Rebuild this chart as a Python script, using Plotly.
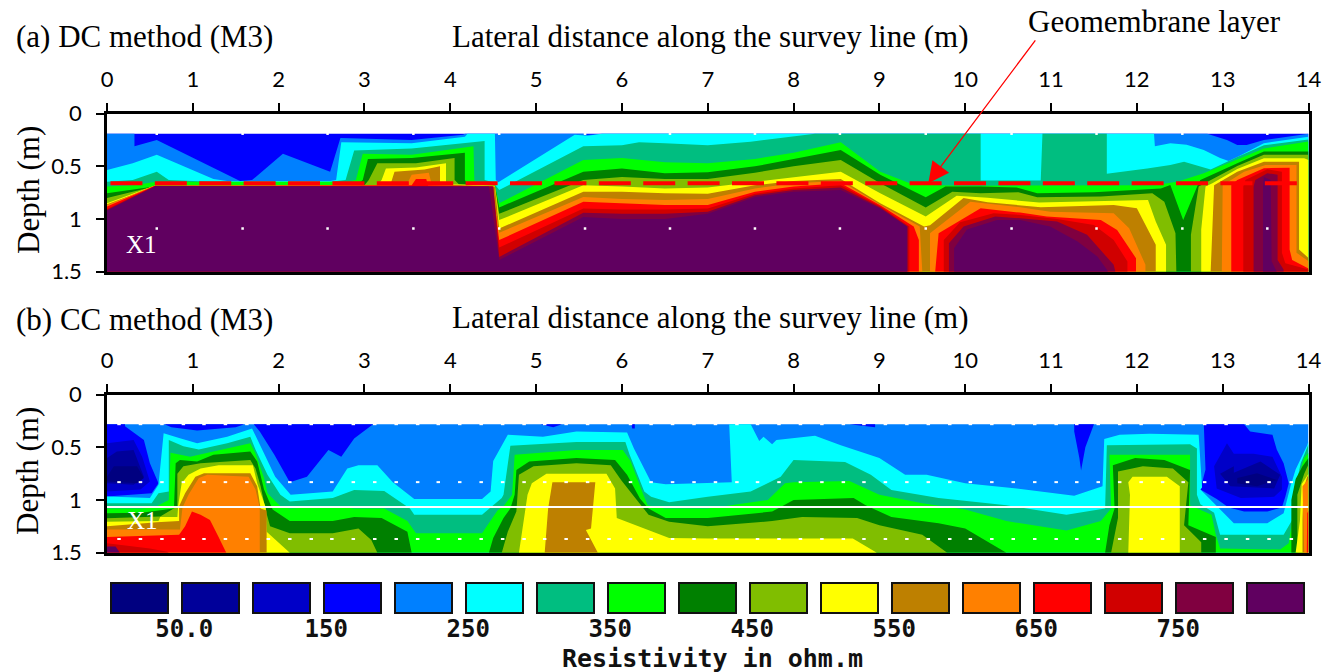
import plotly.graph_objects as go

W, H = 1335, 672
BAND_COLORS = ["#000080", "#00009A", "#0000C8", "#0000FF", "#0080FF", "#00FFFF", "#00BE80", "#00FF00", "#008000",
               "#80BE00", "#FFFF00", "#BE8000", "#FF8000", "#FF0000", "#D00000", "#800040", "#600060"]
LEGEND_POS = list(range(17))
LEGEND_TICKS = [0.63, 2.63, 4.63, 6.63, 8.63, 10.63, 12.63, 14.63]
LEGEND_LABELS = ["50.0", "150", "250", "350", "450", "550", "650", "750"]
X_TICKS = list(range(15))
DEPTH_TICKS = [0, 0.5, 1, 1.5]
DEPTH_LABELS = ["0", "0.5", "1", "1.5"]

# Iso-resistivity outlines: (distance m, depth m).
# DC_Lk is the outline of the area with resistivity above the lower limit of colour band k.
DC_L3 = [[(0, .19), (14, .19)]]
DC_L4 = [[(0, .19), (.32, .19), (.32, .31), (.58, .25), (1.55, .64), (1.69, .63), (2.05, .38), (2.6, .55), (2.72, .23),
          (3.55, .25), (4.15, .2), (4.17, .19), (5.55, .19), (5.6, .2), (5.77, .19), (12.82, .19), (13.05, .25),
          (13.17, .297), (13.28, .297), (13.48, .25), (14, .19)]]
DC_L5 = [[(0, .535), (.3, .47), (.58, .39), (1.24, .62), (1.4, .64), (2.6, .64), (2.67, .63), (2.73, .27), (3.55, .28),
          (4.17, .22), (4.2, .19), (4.52, .19), (4.53, .63), (4.56, .65), (5.45, .2), (5.6, .21), (5.77, .19),
          (12.2, .19), (12.21, .31), (12.39, .28), (12.58, .295), (12.78, .345), (12.97, .42), (13.07, .45),
          (13.17, .41), (13.48, .28), (14, .22)]]
DC_L6 = [[(0, .645), (.3, .63), (.58, .55), (.72, .63), (1.2, .645), (2.6, .645), (2.78, .63), (2.88, .35), (3.55, .33),
          (4.4, .26), (4.4, .63), (4.5, .65), (4.57, .725), (5.55, .31), (6, .3), (6.2, .27), (6.5, .28), (7, .3),
          (7.5, .266), (8.25, .19), (10.18, .19), (10.18, .635), (10.88, .635), (10.9, .19), (11.65, .19), (11.65, .57),
          (12.12, .52), (12.39, .487), (12.55, .455), (12.74, .5), (12.86, .53), (13.17, .41), (13.48, .3), (14, .245)]]
DC_L7 = [[(0, .69), (.3, .68), (.58, .645), (2.8, .645), (2.9, .63), (2.98, .38), (3.55, .39), (4.27, .31), (4.28, .63),
          (4.3, .66), (4.52, .68), (4.57, .85), (5.55, .44), (6, .42), (6.5, .46), (7, .47), (7.55, .43), (8, .37),
          (8.55, .27), (9.01, .55), (9.4, .675), (10, .683), (12.2, .68), (12.47, .645), (12.78, .565), (13.17, .435),
          (13.48, .33), (14, .265)]]
DC_L8 = [[(0, .756), (.3, .72), (.55, .69), (2.9, .68), (2.98, .63), (3.04, .43), (3.55, .42), (4.17, .37), (4.17, .63),
          (4.2, .67), (4.52, .68), (4.57, .89), (5.55, .55), (6, .52), (6.5, .565), (7, .555), (7.55, .5), (8, .43),
          (8.55, .345), (9.01, .58), (9.54, .793), (9.77, .692), (10.18, .69), (10.6, .7), (10.84, .755), (11.5, .746),
          (12.28, .71), (12.39, .677), (12.54, 1.01), (12.71, .677), (12.74, .63), (13.17, .47), (13.48, .36), (14, .36)]]
DC_L9 = [[(0, .8), (.25, .75), (.55, .69), (3.0, .68), (3.05, .63), (3.15, .47), (3.6, .47), (4.05, .42), (4.05, .63),
          (4.1, .67), (4.52, .68), (4.57, .95), (5.55, .63), (6, .6), (6.5, .62), (7, .62), (7.55, .56), (8, .5),
          (8.55, .44), (9.01, .66), (9.54, .891), (9.85, .74), (10.18, .756), (10.62, .746), (10.84, .793), (11.58, .787),
          (12.18, .756), (12.32, .835), (12.45, 1.135), (12.46, 1.5)],
         [(12.63, 1.5), (12.63, 1.15), (12.72, .69), (12.86, .63), (13.17, .496), (13.48, .39), (14, .39)]]
DC_L10 = [[(0, .85), (.3, .76), (.55, .685), (3.15, .68), (3.2, .63), (3.25, .52), (3.6, .51), (3.95, .47), (3.95, .66),
           (4, .67), (4.52, .685), (4.57, 1.01), (5.55, .68), (6, .69), (6.5, .71), (7, .7), (7.55, .645), (8, .6),
           (8.55, .55), (9.01, .755), (9.54, .977), (9.9, .78), (10.26, .797), (10.86, .844), (11.5, .835), (12.13, .82),
           (12.22, 1.024), (12.34, 1.245), (12.34, 1.5)],
          [(12.75, 1.5), (12.75, 1.1), (12.8, .69), (12.88, .66), (13.17, .525), (13.48, .424), (13.95, .424), (14, .44)]]
DC_L11 = [[(0, .86), (.3, .77), (.55, .685), (3.3, .68), (3.35, .55), (3.7, .53), (3.88, .5), (3.88, .67), (4.52, .69),
           (4.57, 1.09), (5.55, .74), (6, .74), (6.5, .756), (7, .76), (7.55, .68), (8, .64), (8.55, .62), (9.01, .85),
           (9.52, 1.07), (9.59, 1.06), (9.98, .8), (10.26, .84), (10.88, .888), (11.73, .866), (12, .898), (12.12, 1.087),
           (12.22, 1.245), (12.22, 1.5)],
          [(12.86, 1.5), (12.9, .68), (13.17, .55), (13.48, .455), (13.89, .455), (13.89, 1.29), (14, 1.37)]]
DC_L12 = [[(0, .87), (.55, .685), (3.45, .68), (3.5, .66), (3.55, .58), (3.75, .56), (3.78, .66), (3.82, .68), (4.48, .69),
           (4.57, 1.13), (5.55, .79), (6, .81), (6.5, .82), (7, .81), (7.55, .71), (8, .66), (8.55, .64), (9.01, .865),
           (9.47, 1.07), (9.5, 1.5)],
          [(9.59, 1.5), (9.59, 1.135), (10.06, .835), (10.64, .888), (10.99, .93), (11.73, .945), (11.91, 1.087),
           (12.1, 1.435), (12.1, 1.5)],
          [(12.99, 1.5), (13, .68), (13.25, .55), (13.5, .487), (13.86, .487), (13.86, 1.32), (14, 1.4)]]
DC_L13 = [[(0, .88), (.56, .685), (3.55, .68), (3.6, .62), (3.72, .62), (3.74, .68), (4.49, .69), (4.57, 1.2), (5.55, .835),
           (6, .85), (6.5, .867), (7, .867), (7.55, .74), (8, .69), (8.55, .66), (9.01, .87), (9.4, 1.07), (9.46, 1.2),
           (9.46, 1.5)],
          [(9.65, 1.5), (9.69, 1.135), (10.18, .898), (10.64, .939), (10.95, .977), (11.58, 1.008), (11.77, 1.103),
           (11.99, 1.372), (11.99, 1.5)],
          [(13.1, 1.5), (13.1, .68), (13.17, .63), (13.48, .518), (13.78, .512), (13.78, 1.29), (13.81, 1.39), (14, 1.47)]]
DC_L14 = [[(0, .905), (.56, .686), (4.5, .69), (4.57, 1.27), (5.55, .9), (6, .91), (6.5, .91), (7, .9), (7.55, .76),
           (8, .71), (8.55, .68), (9.01, .88), (9.35, 1.07), (9.35, 1.5)],
          [(9.75, 1.5), (9.75, 1.198), (9.94, 1.03), (10.33, .945), (10.64, .961), (11.07, 1.0), (11.5, 1.056),
           (11.73, 1.198), (11.89, 1.403), (11.89, 1.5)],
          [(13.24, 1.5), (13.24, .69), (13.265, .63), (13.52, .528), (13.69, .55), (13.69, 1.32), (13.73, 1.42), (14, 1.48)]]
DC_L15 = [[(0, .915), (.56, .687), (4.5, .69), (4.57, 1.36), (5.55, .94), (6, .95), (6.5, .95), (7, .93), (7.55, .775),
           (8, .725), (8.55, .7), (9.01, .89), (9.33, 1.07), (9.33, 1.5)],
          [(9.81, 1.5), (9.81, 1.23), (9.98, 1.07), (10.35, .977), (10.64, .993), (11.07, 1.024), (11.42, 1.15),
           (11.73, 1.435), (11.75, 1.5)],
          [(13.36, 1.5), (13.36, .69), (13.38, .63), (13.52, .565), (13.64, .58), (13.64, 1.39), (13.71, 1.48), (13.71, 1.5)]]
DC_L16 = [[(0, .92), (.57, .688), (4.45, .69), (4.57, 1.39), (5.55, .98), (6, 1.0), (6.5, 1.0), (7, .95), (7.55, .79),
           (8, .74), (8.55, .725), (9.01, .9), (9.32, 1.07), (9.32, 1.5)],
          [(9.87, 1.5), (9.87, 1.277), (10.02, 1.1), (10.37, 1.008), (10.64, 1.008), (10.99, 1.07), (11.31, 1.214),
           (11.54, 1.356), (11.66, 1.492), (11.66, 1.5)],
          [(13.47, 1.5), (13.47, .69), (13.48, .6), (13.56, .63), (13.57, 1.4), (13.63, 1.5)]]
DC_LAYERS = [(3, DC_L3), (4, DC_L4), (5, DC_L5), (6, DC_L6), (7, DC_L7), (8, DC_L8), (9, DC_L9), (10, DC_L10),
             (11, DC_L11), (12, DC_L12), (13, DC_L13), (14, DC_L14), (15, DC_L15), (16, DC_L16)]

# CC panel: light blue ground, low-resistivity pockets, then the outlines above each limit.
CC_BASE = [[(0, .28), (14, .28)]]
CC_LOW3 = [[(0, .28), (.21, .28), (.21, .3), (.43, .43), (.5, .65), (.6, .84), (.52, .935), (0, .967)],
           [(.67, .28), (.75, .31), (1.05, .34), (1.5, .31), (1.6, .28)],
           [(1.71, .28), (1.78, .35), (1.95, .57), (2.13, .83), (2.33, .78), (2.58, .525), (2.73, .59), (2.88, .415), (3.1, .28)],
           [(5.05, .28), (5.2, .31), (5.3, .28)], [(6.11, .28), (6.12, .32), (6.15, .32), (6.15, .28)],
           [(8.65, .28), (8.95, .31), (8.95, .28)],
           [(11.27, .28), (11.27, .35), (11.33, .6), (11.35, .72), (11.4, .5), (11.5, .28)],
           [(12.78, .28), (13.25, .28), (13.32, .35), (13.58, .38), (13.63, .52), (13.71, .65), (13.77, .84), (13.73, .97),
            (13.69, 1.07), (13.52, 1.11), (13.25, 1.11), (13.07, 1.07), (12.93, .99), (12.74, .9), (12.8, .71)]]
CC_LOW2 = [[(0, .46), (.31, .43), (.41, .59), (.5, .825), (.39, .9), (0, .92)],
           [(13.05, .46), (13.13, .56), (13.36, .56), (13.58, .59), (13.69, .78), (13.69, .9), (13.6, .97), (13.21, .98),
            (12.93, .89), (12.9, .68)]]
CC_LOW1 = [[(0, .6), (.115, .54), (.31, .525), (.43, .78), (.31, .856), (0, .84)],
           [(13.13, .68), (13.13, .74), (13.44, .635), (13.67, .76), (13.6, .89), (13.09, .87), (12.97, .75)]]
CC_LOW0 = [[(0, .78), (.08, .68), (.35, .68), (.43, .79), (.35, .84), (0, .825)],
           [(13.17, .79), (13.4, .745), (13.63, .81), (13.4, .87), (13.17, .84)]]
CC_L5 = [[(0, .967), (.5, .98), (.6, .856), (.66, .366), (.85, .414), (1.05, .46), (1.4, .4), (1.69, .32), (1.79, .49),
          (1.96, .78), (2.14, .95), (2.63, .92), (2.8, .7), (2.93, .67), (3.15, .67), (3.33, .83), (3.58, .99), (4.37, .99),
          (4.47, .92), (4.5, .63), (4.67, .38), (5.08, .4), (5.47, .35), (6.06, .36), (6.14, .51), (6.34, .83), (6.51, .85),
          (7, .84), (7.28, .83), (7.25, .28), (7.5, .28), (7.6, .44), (7.65, .4), (7.75, .47), (7.8, .43), (8.25, .39),
          (8.55, .48), (9, .6), (9.3, .76), (9.55, .76), (10, .84), (10.6, .89), (11.27, .96), (11.6, .87), (11.62, .42),
          (11.8, .38), (12.15, .37), (12.72, .38), (12.76, .88), (12.74, .9), (12.97, 1.09), (13.13, 1.22), (13.52, 1.22),
          (13.71, 1.125), (13.79, .87), (13.85, .71), (13.985, .48), (14, .44)]]
CC_L6 = [[(0, 1.03), (.52, 1.03), (.6, .935), (.72, .92), (.72, .43), (.89, .49), (1.07, .52), (1.4, .46), (1.67, .4),
          (1.73, .52), (1.87, .76), (2.02, .95), (2.13, 1.015), (2.63, .98), (2.88, .905), (3.23, .915), (3.53, 1.08),
          (3.58, 1.14), (4.37, 1.14), (4.6, .98), (4.62, .95), (4.7, .485), (5.47, .45), (6.04, .45), (6.09, .57), (6.26, .92),
          (6.34, .97), (6.55, 1.02), (7, .97), (7.5, .92), (7.85, .78), (8, .62), (8.6, .64), (8.9, .76), (9.14, .905),
          (9.69, .98), (10.48, 1.05), (11.18, 1.14), (11.63, 1.08), (11.65, .48), (12.62, .47), (12.7, .51), (12.7, .95),
          (12.74, 1.04), (12.9, 1.12), (12.97, 1.33), (13.71, 1.33), (13.81, 1.19), (13.85, .87), (13.91, .65), (14, .47)]]
CC_L7 = [[(0, 1.08), (.4, 1.08), (.55, 1.07), (.72, 1.0), (.74, .55), (.97, .59), (1.07, .57), (1.4, .51), (1.67, .46),
          (1.73, .556), (1.83, .79), (1.87, .935), (2.02, 1.06), (2.13, 1.08), (2.63, 1.06), (2.88, 1.08), (3.23, 1.08),
          (3.5, 1.2), (3.6, 1.316), (4.37, 1.316), (4.55, 1.1), (4.62, 1.06), (4.72, .95), (4.75, .57), (5.47, .525),
          (6.01, .525), (6.1, .63), (6.25, .95), (6.3, 1.05), (6.5, 1.08), (7, 1.08), (7.7, 1.0), (7.9, .84), (8, .83),
          (8.65, .82), (9, .95), (9.5, 1.03), (10, 1.09), (10.48, 1.2), (11.18, 1.29), (11.58, 1.2), (11.7, 1.08),
          (11.68, .57), (12.62, .57), (12.62, 1.05), (12.87, 1.14), (12.92, 1.33), (12.97, 1.46), (13.67, 1.47),
          (13.77, 1.41), (13.81, 1.19), (13.87, .81), (13.95, .6), (14, .55)]]
CC_L8 = [[(0, 1.126), (.4, 1.12), (.78, 1.08), (.8, .65), (.85, .62), (1.05, .635), (1.24, .57), (1.67, .54), (1.75, .635),
          (1.83, .9), (1.93, 1.09), (2.13, 1.2), (2.63, 1.2), (2.88, 1.16), (3.2, 1.17), (3.5, 1.3), (3.55, 1.5)],
         [(4.45, 1.5), (4.5, 1.36), (4.62, 1.17), (4.7, 1.08), (4.75, .95), (4.77, .715), (4.92, .635), (5.47, .6), (5.92, .62),
          (6.06, .76), (6.21, .985), (6.31, 1.08), (6.51, 1.17), (7, 1.17), (7.75, 1.11), (8, 1.0), (8.7, .98), (8.84, 1.05),
          (9.14, 1.16), (9.69, 1.22), (10, 1.27), (10.48, 1.5)],
         [(11.63, 1.5), (11.68, 1.24), (11.74, 1.08), (11.72, .67), (11.98, .6), (12.32, .62), (12.62, .715), (12.6, 1.24),
          (12.92, 1.35), (12.92, 1.5)],
         [(13.8, 1.5), (13.8, 1.0), (13.85, .8), (13.93, .68), (14, .6)]]
CC_L9 = [[(0, 1.174), (.62, 1.156), (.82, 1.06), (.82, .75), (.89, .68), (1.09, .65), (1.67, .62), (1.73, .7), (1.79, .87),
          (1.85, 1.1), (1.9, 1.25), (2.13, 1.316), (2.63, 1.316), (2.93, 1.27), (3.08, 1.38), (3.15, 1.5)],
         [(4.6, 1.5), (4.67, 1.3), (4.77, 1.11), (4.8, .76), (4.97, .68), (5.47, .65), (5.87, .67), (5.99, .81), (6.16, .985),
          (6.31, 1.14), (6.55, 1.205), (7, 1.25), (7.75, 1.2), (8.1, 1.16), (8.74, 1.17), (9, 1.24), (9.5, 1.33), (9.79, 1.5)],
         [(11.7, 1.5), (11.78, 1.17), (11.78, .73), (12.07, .68), (12.42, .7), (12.6, .83), (12.55, 1.24), (12.75, 1.4), (12.75, 1.5)],
         [(13.87, 1.5), (13.87, .95), (13.95, .75), (14, .66)]]
CC_L10 = [[(0, 1.205), (.6, 1.2), (.62, 1.16), (.82, 1.16), (.83, 1.05), (.87, .84), (.95, .76), (1.09, .7), (1.3, .67), (1.7, .67),
           (1.75, .84), (1.83, 1.03), (1.85, 1.07), (1.86, 1.3), (2, 1.4), (2.13, 1.5)],
          [(4.8, 1.5), (4.87, 1.14), (4.9, .95), (4.95, .84), (5.12, .75), (5.82, .75), (5.92, .89), (5.94, 1.17), (6.36, 1.3),
           (6.55, 1.36), (7, 1.365), (8.69, 1.365), (8.97, 1.5)],
          [(11.9, 1.5), (11.92, .95), (11.9, .83), (11.95, .78), (12.35, .78), (12.5, .87), (12.5, 1.5)],
          [(13.85, 1.5), (13.9, 1.2), (13.92, .85), (14, .75)]]
CC_L11 = [[(0, 1.25), (.58, 1.21), (.84, 1.2), (.84, 1.06), (.91, .935), (1.03, .78), (1.13, .745), (1.67, .745), (1.75, .87),
           (1.79, 1.08), (1.86, 1.1), (1.86, 1.5)],
          [(5.1, 1.5), (5.14, 1.08), (5.19, .83), (5.69, .83), (5.64, 1.27), (5.58, 1.285), (5.72, 1.5)],
          [(13.93, 1.5), (13.93, 1.19), (13.94, .9), (13.985, .78), (14, .77)]]
CC_L12 = [[(0, 1.28), (.85, 1.28), (.88, 1.07), (.95, .95), (1.07, .79), (1.17, .76), (1.65, .78), (1.73, .9), (1.78, 1.07), (1.78, 1.5)],
          [(13.95, 1.5), (13.93, .87), (13.99, .81), (14, .8)]]
CC_L13 = [[(0, 1.35), (.84, 1.33), (.91, 1.25), (.99, 1.11), (1.09, 1.14), (1.2, 1.19), (1.3, 1.35), (1.39, 1.5)],
          [(13.98, 1.5), (13.985, 1.125), (14, 1.1)]]
CC_L14 = [[(0, 1.41), (.5, 1.46), (.7, 1.49), (.72, 1.5)]]
CC_L16 = [[(0, 1.44), (.1, 1.44), (.15, 1.5)]]
CC_LOW = [(3, CC_LOW3), (2, CC_LOW2), (1, CC_LOW1), (0, CC_LOW0)]
CC_LAYERS = [(5, CC_L5), (6, CC_L6), (7, CC_L7), (8, CC_L8), (9, CC_L9), (10, CC_L10), (11, CC_L11), (12, CC_L12),
             (13, CC_L13), (14, CC_L14), (16, CC_L16)]

# Measurement markers and overlay lines
DC_DOT_X = [.58, 1.58, 2.57, 3.57, 4.57, 5.57, 6.56, 7.55, 8.54, 9.54, 10.54, 11.53, 12.53, 13.52]
DC_DOT_ROWS = [.19, 1.09]
CC_DOT_X = [.14, .39, .64, .89, 1.13, 1.38, 1.63, 1.88, 2.13, 2.38, 2.62, 2.87, 3.12, 3.37, 3.62, 3.86, 4.11, 4.36, 4.61,
            4.86, 5.1, 5.35, 5.6, 5.85, 6.1, 6.34, 6.59, 6.84, 7.09, 7.34, 7.58, 7.83, 8.08, 8.33, 8.58, 8.82, 9.07, 9.32,
            9.57, 9.82, 10.06, 10.31, 10.56, 10.81, 11.06, 11.3, 11.55, 11.8, 12.05, 12.3, 12.54, 12.79, 13.04, 13.29, 13.54, 13.8]
CC_DOT_ROWS = [.28, .83, 1.37]
MEMBRANE_X = [.04, 13.88]
MEMBRANE_D = [.66, .66]
WHITE_LINE_X = [0, 14]
WHITE_LINE_D = [1.066, 1.066]

SERIF = "Liberation Serif"
MONO = "DejaVu Sans Mono"
TICK = "Lato"
fig = go.Figure()


def add_area(parts, band, xaxis, yaxis, to_bottom=True):
    xs, ds = [], []
    for part in parts:
        px = [p[0] for p in part]
        pd = [p[1] for p in part]
        if to_bottom:
            px += [px[-1], px[0]]
            pd += [1.5, 1.5]
        xs += px + [None]
        ds += pd + [None]
    fig.add_trace(go.Scatter(x=xs, y=ds, mode="lines", fill="toself", fillcolor=BAND_COLORS[band],
                             line=dict(width=0), hoverinfo="skip", showlegend=False, xaxis=xaxis, yaxis=yaxis))


def add_dots(xs, rows, xaxis, yaxis, marker):
    for row in rows:
        fig.add_trace(go.Scatter(x=xs, y=[row] * len(xs), mode="markers", hoverinfo="skip", showlegend=False,
                                 marker=marker, xaxis=xaxis, yaxis=yaxis, cliponaxis=False))


for band, parts in DC_LAYERS:
    add_area(parts, band, "x", "y")
add_dots(DC_DOT_X, DC_DOT_ROWS, "x", "y", dict(color="white", size=2.5, symbol="square", line=dict(width=0)))
fig.add_trace(go.Scatter(x=MEMBRANE_X, y=MEMBRANE_D, mode="lines", hoverinfo="skip", showlegend=False,
                         line=dict(color="#FF0000", width=4, dash="32px,12.4px"), xaxis="x", yaxis="y"))

add_area(CC_BASE, 4, "x2", "y2")
for band, parts in CC_LOW:
    add_area(parts, band, "x2", "y2", to_bottom=False)
for band, parts in CC_LAYERS:
    add_area(parts, band, "x2", "y2")
add_dots(CC_DOT_X, CC_DOT_ROWS, "x2", "y2", dict(size=2.5, symbol="line-ew", line=dict(color="white", width=2)))
fig.add_trace(go.Scatter(x=WHITE_LINE_X, y=WHITE_LINE_D, mode="lines", hoverinfo="skip", showlegend=False,
                         line=dict(color="white", width=2), xaxis="x2", yaxis="y2"))

fig.add_trace(go.Bar(x=LEGEND_POS, y=[1] * 17, width=0.8, marker=dict(color=BAND_COLORS, line=dict(color="#111111", width=2)),
                     hoverinfo="skip", showlegend=False, xaxis="x3", yaxis="y3"))


def dom_x(a, b):
    return [a / W, b / W]


def dom_y(top, bottom):
    return [1 - bottom / H, 1 - top / H]


def xaxis(anchor):
    return dict(domain=dom_x(107, 1308.5), range=[0, 14], side="top", anchor=anchor, tickmode="array", tickvals=X_TICKS,
                ticks="outside", ticklen=8, tickwidth=2, tickcolor="black", showline=True, mirror=True, linecolor="black",
                linewidth=2.5, showgrid=False, zeroline=False, ticklabelstandoff=7,
                tickfont=dict(family=TICK, size=22, color="black"))


def yaxis(anchor, top, bottom):
    return dict(domain=dom_y(top, bottom), range=[1.5, 0], anchor=anchor, tickmode="array", tickvals=DEPTH_TICKS,
                ticktext=DEPTH_LABELS, ticks="outside", ticklen=8, tickwidth=2, tickcolor="black", showline=True, mirror=True,
                linecolor="black", linewidth=2.5, showgrid=False, zeroline=False, ticklabelstandoff=10,
                tickfont=dict(family=TICK, size=22, color="black"))


fig.update_layout(
    width=W, height=H, margin=dict(l=0, r=0, t=0, b=0, autoexpand=False), paper_bgcolor="white", plot_bgcolor="white",
    xaxis=xaxis("y"), yaxis=yaxis("x", 113.7, 271.7),
    xaxis2=xaxis("y2"), yaxis2=yaxis("x2", 394.7, 552.7),
    xaxis3=dict(domain=dom_x(104, 1311), range=[-0.5, 16.5], anchor="y3", tickmode="array", tickvals=LEGEND_TICKS,
                ticktext=LEGEND_LABELS, ticks="", showgrid=False, zeroline=False, showline=False, ticklabelstandoff=-2,
                tickfont=dict(family=MONO, size=24, color="#111111", weight=700)),
    yaxis3=dict(domain=dom_y(582, 614), range=[-0.03, 1.03], anchor="x3", visible=False),
    bargap=0,
)


def label(text, px, py, size, color="black", family=SERIF, angle=0, weight=400):
    fig.add_annotation(text=text, x=px / W, y=1 - py / H, xref="paper", yref="paper", showarrow=False, xanchor="center",
                       yanchor="middle", textangle=angle, font=dict(family=family, size=size, color=color, weight=weight))


label("(a) DC method (M3)", 144, 36, 31)
label("Lateral distance along the survey line (m)", 710, 36, 31)
label("Geomembrane layer", 1154, 22, 31)
label("(b) CC method (M3)", 144, 319, 31)
label("Lateral distance along the survey line (m)", 710, 317, 31)
label("Depth (m)", 28, 190, 31, angle=-90)
label("Depth (m)", 28, 471, 31, angle=-90)
label("X1", 141, 245, 25, color="white")
label("X1", 142, 520, 25, color="white")
label("Resistivity in ohm.m", 713, 658, 25, family=MONO, color="#111111", weight=700)

fig.add_annotation(x=9.57, y=.66, ax=10.83, ay=-.71, xref="x", yref="y", axref="x", ayref="y", text="", showarrow=True,
                   arrowcolor="#FF0000", arrowwidth=1.3, arrowhead=2, arrowsize=3.2)

fig.write_html("out.html", config={"displayModeBar": False}, post_script="document.body.style.margin='0';")
